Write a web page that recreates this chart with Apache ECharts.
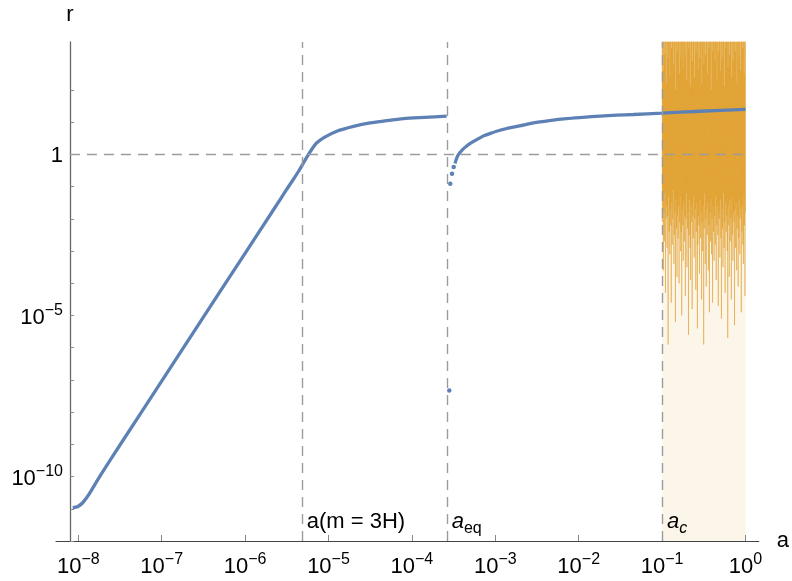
<!DOCTYPE html>
<html><head><meta charset="utf-8">
<script src="https://cdn.jsdelivr.net/npm/echarts@6/dist/echarts.min.js"></script>
<style>html,body{margin:0;padding:0;background:#fff}#c{width:792px;height:581px}</style>
</head><body><div id="c"></div>
<script>
// All values are log10 of the quantities (a on x, r on y)
const xTicks = [-8, -7, -6, -5, -4, -3, -2, -1, 0];
const yTicks = [-12, -11, -10, -9, -8, -7, -6, -5, -4, -3, -2, -1, 0, 1, 2];
const yLabelTicks = [-10, -5, 0];

const branch1LogA = [-8.067, -8.04, -8.00, -7.95, -7.90, -7.85, -7.80, -7.75, -7.70, -7.5, -7.0, -6.5, -6.0, -5.7, -5.58, -5.5, -5.42, -5.36, -5.31, -5.27, -5.23, -5.19, -5.14, -5.05, -4.90, -4.70, -4.50, -4.30, -4.10, -3.85, -3.583];
const branch1LogR = [-10.96, -10.955, -10.92, -10.82, -10.66, -10.46, -10.24, -10.03, -9.82, -9.02, -7.04, -5.05, -3.07, -1.88, -1.40, -1.08, -0.77, -0.53, -0.31, -0.13, 0.04, 0.20, 0.36, 0.53, 0.72, 0.87, 0.98, 1.05, 1.11, 1.15, 1.19];

const branch2LogA = [-3.483, -3.475, -3.46, -3.44, -3.41, -3.38, -3.343, -3.30, -3.25, -3.20, -3.144, -3.05, -2.944, -2.80, -2.65, -2.544, -2.35, -2.144, -1.95, -1.745, -1.545, -1.345, -1.005, -0.545, 0];
const branch2LogR = [-0.28, -0.21, -0.10, 0, 0.10, 0.18, 0.26, 0.34, 0.42, 0.49, 0.57, 0.66, 0.75, 0.84, 0.92, 0.98, 1.05, 1.11, 1.15, 1.19, 1.22, 1.24, 1.28, 1.34, 1.40];

const dotsLogA = [-3.552, -3.540, -3.519, -3.499];
const dotsLogR = [-7.33, -0.91, -0.60, -0.39];

const markerLogA = [-5.321, -3.583, -1];
const markerNames = ['a(m=3H)', 'a_eq', 'a_c'];
const unityLogR = 0;
const hLineStartLogA = -8.1;
const labelLogR = -11.62;

const noiseRange = [-1, 0];
const noisePeaks = [4, 4, 2.6, 4, 4, 3.1, 4, 4, 2.2, 4,
  4, 3.0, 4, 4, 4, 2.4, 4, 4, 3.3, 4,
  4, 4, 2.8, 4, 4, 4, 2.0, 4, 4, 3.2,
  4, 4, 4, 2.5, 4, 4, 3.0, 4, 4, 4,
  2.7, 4, 4, 4, 3.1, 4, 4, 2.3, 4, 4,
  4, 3.3, 4, 4, 2.1, 4, 4, 4, 2.9, 4,
  4, 4, 2.4, 4, 4, 3.2, 4, 4, 4, 2.6,
  4, 4, 3.0, 4, 4, 4, 2.2, 4, 4, 4,
  2.8, 4, 4, 3.1, 4, 4, 4, 2.5, 4, 4,
  3.3, 4, 4, 4, 2.0, 4, 4, 3.2, 4, 4,
  4, 2.9, 4, 4, 4, 2.3, 4, 4, 3.2, 4,
  4, 4, 2.6, 4, 4, 3.0, 4, 4, 4, 2.1,
  4, 4, 3.3, 4, 4, 4, 2.7, 4, 4, 3.1,
  4, 4, 4, 2.4, 4, 4, 2.9, 4, 4, 4,
  3.2, 4, 4, 2.2, 4, 4, 4, 3.0, 4, 4,
  2.6, 4, 4, 4, 3.3, 4, 4, 2.5, 4, 4];
const noiseTroughs = [-2.1, -1.4, -3.6, -1.8, -2.7, -1.2, -4.3, -2.0, -1.6, -2.9,
  -1.9, -5.9, -1.3, -2.4, -3.1, -1.7, -2.2, -4.6, -1.5, -2.8,
  -2.0, -1.1, -3.4, -2.5, -1.8, -5.2, -1.4, -2.3, -3.8, -1.9,
  -2.6, -1.6, -4.0, -2.1, -1.3, -3.0, -2.4, -5.0, -1.7, -2.2,
  -3.3, -1.5, -2.7, -1.9, -4.4, -2.0, -1.2, -3.5, -2.3, -1.8,
  -5.6, -2.5, -1.4, -2.9, -3.9, -1.6, -2.1, -4.8, -1.9, -2.6,
  -1.3, -3.2, -2.0, -1.7, -4.2, -2.4, -1.5, -5.4, -2.8, -1.9,
  -2.2, -3.7, -1.4, -2.6, -1.8, -4.5, -2.1, -3.0, -1.6, -5.9,
  -2.3, -1.2, -3.4, -2.0, -4.1, -1.7, -2.5, -1.5, -3.6, -2.2,
  -4.9, -1.8, -2.7, -1.4, -3.1, -2.0, -4.6, -1.6, -2.4, -3.3,
  -1.9, -2.8, -1.3, -3.9, -2.2, -1.6, -2.5, -4.7, -1.8, -2.0,
  -3.2, -1.4, -2.6, -5.1, -1.7, -2.3, -3.5, -1.2, -2.9, -2.1,
  -4.3, -1.5, -2.4, -1.9, -3.0, -5.7, -1.6, -2.2, -3.8, -1.4,
  -2.7, -2.0, -4.5, -1.3, -2.5, -3.3, -1.8, -2.1, -5.3, -1.7,
  -2.9, -1.5, -3.6, -2.3, -1.9, -4.1, -2.6, -1.4, -3.1, -2.0,
  -1.7, -4.9, -2.4, -1.6, -2.8, -3.4, -1.3, -2.2, -4.4, -1.8];

const FONT = 'Liberation Sans, Arial, sans-serif';
const BLUE = '#5E81B5';
const ORANGE = '#E19C24';

const zip = (xs, ys) => xs.map((x, i) => [x, ys[i]]);

const nPts = noisePeaks.length * 2;
const noiseData = [];
noisePeaks.forEach((p, i) => {
  const span = noiseRange[1] - noiseRange[0];
  noiseData.push([noiseRange[0] + (2 * i) / (nPts - 1) * span, p]);
  noiseData.push([noiseRange[0] + (2 * i + 1) / (nPts - 1) * span, noiseTroughs[i]]);
});

function powLabel(v, isY) {
  if (isY && v === 0) return '{b|1}';
  const e = v < 0 ? '\u2212' + (-v) : String(v);
  return '{b|10}{s|' + e + '}';
}
const tickRich = {
  b: { fontSize: 22, lineHeight: 26, verticalAlign: 'bottom', fontFamily: FONT, color: '#000' },
  s: { fontSize: 16, lineHeight: 17, verticalAlign: 'top', fontFamily: FONT, color: '#000' }
};

function markerLabel(name) {
  if (name === 'a_eq') return '{i|a}{sub|eq}';
  if (name === 'a_c') return '{i|a}{subi|c}';
  return '{t|a(m = 3H)}{sub| }';
}

const chart = echarts.init(document.getElementById('c'), null, { renderer: 'canvas' });
chart.setOption({
  animation: false,
  backgroundColor: '#fff',
  grid: { left: 56, right: 33, top: 42, bottom: 40, containLabel: false },
  xAxis: {
    type: 'value', min: -8.267, max: 0.159,
    name: 'a', nameLocation: 'end', nameGap: 18,
    nameTextStyle: { fontSize: 22, fontFamily: FONT, color: '#000', verticalAlign: 'middle' },
    axisLine: { onZero: false, lineStyle: { color: '#444', width: 1.2 } },
    axisTick: { inside: true, length: 6, customValues: xTicks, lineStyle: { color: '#888', width: 1 } },
    axisLabel: { customValues: xTicks, margin: 11, formatter: v => powLabel(v, false), rich: tickRich },
    splitLine: { show: false }
  },
  yAxis: {
    type: 'value', min: -12, max: 3.49, offset: -14,
    name: 'r', nameLocation: 'end', nameGap: 16,
    nameTextStyle: { fontSize: 22, fontFamily: FONT, color: '#000' },
    axisLine: { onZero: false, lineStyle: { color: '#666', width: 1.3 } },
    axisTick: { inside: true, length: 4, customValues: yTicks, lineStyle: { color: '#888', width: 1 } },
    axisLabel: { customValues: yLabelTicks, margin: 7, formatter: v => powLabel(v, true), rich: tickRich },
    splitLine: { show: false }
  },
  series: [
    {
      type: 'line', data: noiseData, symbol: 'none', z: 1, silent: true,
      lineStyle: { color: ORANGE, width: 0.75, opacity: 0.65 },
      markArea: {
        silent: true,
        itemStyle: { color: 'rgba(225,156,36,0.1)' },
        data: [[{ xAxis: noiseRange[0] }, { xAxis: noiseRange[1] }]]
      }
    },
    {
      type: 'scatter', z: 2, silent: true, symbolSize: 0,
      itemStyle: { opacity: 1 },
      data: markerLogA.map((a, i) => ({ value: [a, labelLogR], name: markerNames[i] })),
      label: {
        show: true, position: 'right', distance: 5, color: '#000', opacity: 1,
        formatter: p => markerLabel(p.name),
        rich: {
          t: { fontSize: 22, lineHeight: 22, verticalAlign: 'top', fontFamily: FONT, color: '#000' },
          i: { fontSize: 22, lineHeight: 22, verticalAlign: 'top', fontStyle: 'italic', fontFamily: FONT, color: '#000' },
          sub: { fontSize: 16, lineHeight: 36, fontFamily: FONT, color: '#000' },
          subi: { fontSize: 16, lineHeight: 36, fontStyle: 'italic', fontFamily: FONT, color: '#000' }
        }
      },
      markLine: {
        silent: true, symbol: 'none', animation: false,
        label: { show: false },
        lineStyle: { color: '#9C9C9C', width: 1.4, type: [10, 7], opacity: 1 },
        data: markerLogA.map(a => ({ xAxis: a })).concat([
          [{ coord: [hLineStartLogA, unityLogR] }, { coord: [noiseRange[1], unityLogR] }]
        ])
      }
    },
    {
      type: 'line', data: zip(branch1LogA, branch1LogR), symbol: 'none', z: 3,
      smooth: 0.25,
      lineStyle: { color: BLUE, width: 3.3 }
    },
    {
      type: 'line', data: zip(branch2LogA, branch2LogR), symbol: 'none', z: 3,
      smooth: 0.25,
      lineStyle: { color: BLUE, width: 3.3 }
    },
    {
      type: 'scatter', data: zip(dotsLogA, dotsLogR), symbolSize: 4.5, z: 3,
      itemStyle: { color: BLUE, opacity: 1 }
    }
  ]
});
</script></body></html>
